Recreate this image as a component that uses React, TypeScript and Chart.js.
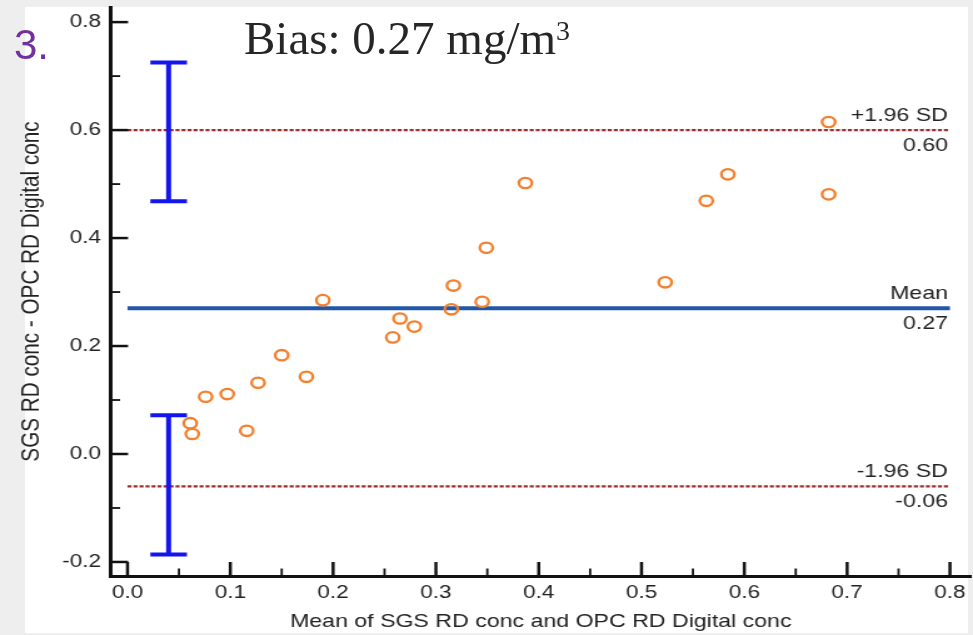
import React, { useEffect, useRef } from 'react';
import { Chart, registerables } from 'chart.js';

Chart.register(...registerables);

// Bland-Altman data (mean of the two methods vs. their difference)
const meanX = [0.682, 0.584, 0.563, 0.682, 0.387, 0.349, 0.317, 0.315, 0.345, 0.523, 0.190, 0.265, 0.279, 0.258, 0.150, 0.174, 0.127, 0.097, 0.076, 0.061, 0.063, 0.116];
const diffY = [0.615, 0.518, 0.469, 0.481, 0.502, 0.382, 0.312, 0.268, 0.282, 0.318, 0.285, 0.251, 0.236, 0.216, 0.183, 0.143, 0.132, 0.111, 0.106, 0.057, 0.037, 0.043];

// limits of agreement and mean
const limitValues = [0.6, 0.27, -0.06];
const limitNames = ['+1.96 SD', 'Mean', '-1.96 SD'];
const limitLabels = ['0.60', '0.27', '-0.06'];
const lineStart = 0;
const lineEnd = 0.8;

// confidence intervals of the limits
const ciX = 0.04;
const ciCapHalf = 0.0178;
const ciUpper = [0.468, 0.725];
const ciLower = [-0.186, 0.072];

// axis ticks
const xMajorTicks = [0, 0.1, 0.2, 0.3, 0.4, 0.5, 0.6, 0.7, 0.8];
const xMinorTicks = [0.05, 0.15, 0.25, 0.35, 0.45, 0.55, 0.65, 0.75];
const yMajorTicks = [-0.2, 0, 0.2, 0.4, 0.6, 0.8];
const yMinorTicks = [-0.1, 0.1, 0.3, 0.5, 0.7];

const xTitle = 'Mean of SGS RD conc and OPC RD Digital conc';
const yTitle = 'SGS RD conc - OPC RD Digital conc';

const SANS = '"Liberation Sans", Arial, Helvetica, sans-serif';
const ORANGE = '#f47f2c';
const DARKRED = '#9e2b2b';
const MEANBLUE = '#2157a6';
const CIBLUE = '#1414f0';

const overlayPlugin = {
  id: 'overlay',
  afterDatasetsDraw(chart: any) {
    const { ctx, scales } = chart;
    const x = scales.x;
    const y = scales.y;
    ctx.save();
    // CI error bars
    ctx.strokeStyle = CIBLUE;
    ctx.lineWidth = 4;
    ctx.lineCap = 'butt';
    [ciUpper, ciLower].forEach((ci) => {
      const px = x.getPixelForValue(ciX);
      const p0 = y.getPixelForValue(ci[0]);
      const p1 = y.getPixelForValue(ci[1]);
      const cl = x.getPixelForValue(ciX - ciCapHalf);
      const cr = x.getPixelForValue(ciX + ciCapHalf);
      ctx.beginPath();
      ctx.moveTo(px, p0);
      ctx.lineTo(px, p1);
      ctx.moveTo(cl, p0);
      ctx.lineTo(cr, p0);
      ctx.moveTo(cl, p1);
      ctx.lineTo(cr, p1);
      ctx.stroke();
    });
    // labels of the reference lines
    ctx.font = `18.5px ${SANS}`;
    ctx.fillStyle = '#222';
    ctx.textAlign = 'right';
    ctx.textBaseline = 'alphabetic';
    const rx = x.getPixelForValue(lineEnd) - 1.6;
    limitValues.forEach((v, i) => {
      const py = y.getPixelForValue(v);
      ctx.fillText(limitNames[i], rx, py - 9.5);
      ctx.fillText(limitLabels[i], rx, py + 21);
    });
    ctx.restore();
  },
  afterDraw(chart: any) {
    const { ctx, chartArea, scales } = chart;
    const x = scales.x;
    const y = scales.y;
    const left = chartArea.left;
    const bottom = chartArea.bottom;
    ctx.save();
    ctx.strokeStyle = '#111';
    const seg = (x0: number, y0: number, x1: number, y1: number, w: number) => {
      ctx.lineWidth = w;
      ctx.beginPath();
      ctx.moveTo(x0, y0);
      ctx.lineTo(x1, y1);
      ctx.stroke();
    };
    xMajorTicks.forEach((v) => {
      const px = x.getPixelForValue(v);
      seg(px, bottom, px, bottom - 14, 2.5);
    });
    xMinorTicks.forEach((v) => {
      const px = x.getPixelForValue(v);
      seg(px, bottom, px, bottom - 7.5, 1.8);
    });
    yMajorTicks.forEach((v) => {
      const py = y.getPixelForValue(v);
      seg(left, py, left + 13.6, py, 2.5);
    });
    yMinorTicks.forEach((v) => {
      const py = y.getPixelForValue(v);
      seg(left, py, left + 7.2, py, 1.8);
    });
    ctx.restore();
  },
};

const hLine = (v: number) => [
  { x: lineStart, y: v },
  { x: lineEnd, y: v },
];

export default function App() {
  const ref = useRef<HTMLCanvasElement | null>(null);

  useEffect(() => {
    if (!ref.current) return;
    const points = meanX.map((mx, i) => ({ x: mx, y: diffY[i] }));
    const chart = new Chart(ref.current, {
      type: 'scatter',
      data: {
        datasets: [
          {
            type: 'scatter',
            data: points,
            pointStyle: 'circle',
            pointRadius: 5.2,
            pointHoverRadius: 5.2,
            borderColor: ORANGE,
            backgroundColor: 'rgba(0,0,0,0)',
            borderWidth: 2.3,
          } as any,
          {
            type: 'line',
            data: hLine(limitValues[0]),
            borderColor: DARKRED,
            borderWidth: 2.2,
            borderDash: [3.2, 1.6],
            pointRadius: 0,
            fill: false,
          } as any,
          {
            type: 'line',
            data: hLine(limitValues[1]),
            borderColor: MEANBLUE,
            borderWidth: 3.8,
            pointRadius: 0,
            fill: false,
          } as any,
          {
            type: 'line',
            data: hLine(limitValues[2]),
            borderColor: DARKRED,
            borderWidth: 2.2,
            borderDash: [3.2, 1.6],
            pointRadius: 0,
            fill: false,
          } as any,
        ],
      },
      options: {
        responsive: false,
        animation: false,
        devicePixelRatio: 1,
        events: [],
        layout: { autoPadding: false, padding: { top: 7, right: 2, left: 0, bottom: 0 } },
        plugins: {
          legend: { display: false },
          tooltip: { enabled: false },
        },
        scales: {
          x: {
            type: 'linear',
            min: -0.016,
            max: 0.82,
            afterBuildTicks: (s: any) => {
              s.ticks = xMajorTicks.map((v) => ({ value: v }));
            },
            afterFit: (s: any) => {
              s.height = 59;
              s.paddingLeft = 0;
              s.paddingRight = 0;
            },
            ticks: {
              autoSkip: false,
              maxRotation: 0,
              padding: 6,
              color: '#222',
              font: { family: SANS, size: 18 },
              callback: (v: any) => Number(v).toFixed(1),
            },
            grid: { display: true, drawOnChartArea: false, drawTicks: false },
            border: { display: true, color: '#111', width: 3 },
            title: {
              display: true,
              text: xTitle,
              color: '#222',
              font: { family: SANS, size: 18.5 },
              padding: { top: 0, bottom: 2 },
            },
          },
          y: {
            type: 'linear',
            min: -0.226,
            max: 0.828,
            afterBuildTicks: (s: any) => {
              s.ticks = yMajorTicks.map((v) => ({ value: v }));
            },
            afterFit: (s: any) => {
              s.width = 88.8;
              s.paddingTop = 0;
              s.paddingBottom = 0;
            },
            ticks: {
              autoSkip: false,
              padding: 8,
              color: '#222',
              font: { family: SANS, size: 18 },
              callback: (v: any) => Number(v).toFixed(1),
            },
            grid: { display: true, drawOnChartArea: false, drawTicks: false },
            border: { display: true, color: '#111', width: 3 },
            title: {
              display: true,
              text: yTitle,
              color: '#222',
              font: { family: SANS, size: 20.7 },
              padding: { top: 13, bottom: 0 },
            },
          },
        },
      } as any,
      plugins: [overlayPlugin],
    });
    return () => chart.destroy();
  }, []);

  return (
    <div
      style={{
        position: 'fixed',
        left: 0,
        top: 0,
        width: 973,
        height: 635,
        background: '#eeeeee',
        overflow: 'hidden',
      }}
    >
      <div style={{ position: 'absolute', left: 25, top: 7, width: 943, height: 626, background: '#ffffff' }} />
      <canvas
        ref={ref}
        width={778}
        height={635}
        style={{ position: 'absolute', left: 0, top: 0, width: '973px', height: '635px' }}
      />
      <div
        style={{
          position: 'absolute',
          left: 14,
          top: 24,
          fontFamily: SANS,
          fontSize: 42,
          lineHeight: 1,
          color: '#7030a0',
          whiteSpace: 'nowrap',
        }}
      >
        3.
      </div>
      <div
        style={{
          position: 'absolute',
          left: 244,
          top: 15,
          fontFamily: '"Liberation Serif", "Times New Roman", serif',
          fontSize: 47,
          lineHeight: 1,
          color: '#262626',
          whiteSpace: 'nowrap',
        }}
      >
        Bias: 0.27 mg/m<span style={{ fontSize: 28, position: 'relative', top: -14 }}>3</span>
      </div>
    </div>
  );
}
